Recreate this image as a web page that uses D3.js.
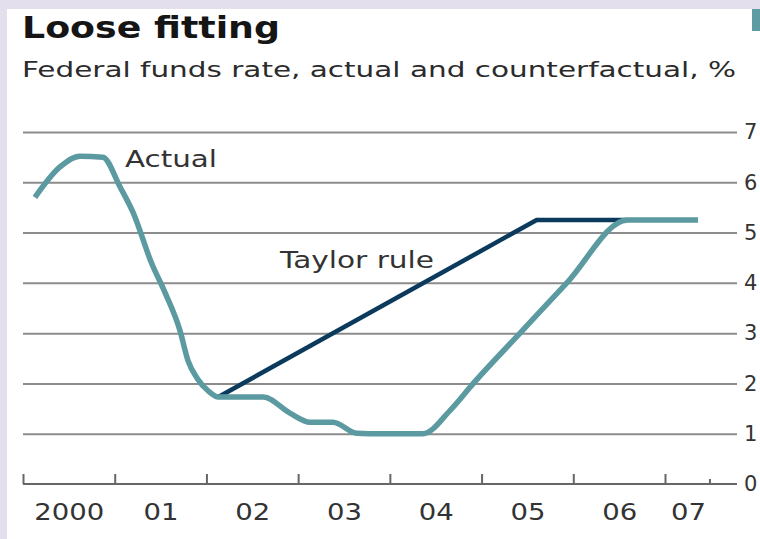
<!DOCTYPE html>
<meta charset="utf-8">
<style>
body { margin: 0; background: #e4dfed; }
svg { display: block; }
text { font-family: "DejaVu Sans", sans-serif; }
.grid line { stroke: #8c8c8c; stroke-width: 2px; }
.grid text { font-size: 21px; fill: #333; }
.xaxis line, .xaxis path { stroke: #666; stroke-width: 2px; }
.xlab text { font-size: 23px; fill: #333; }
</style>
<body>
<script src="https://cdn.jsdelivr.net/npm/d3@7"></script>
<script>

// Actual federal funds rate (decimal year, %)
var actualYears = [2000.13, 2000.4, 2000.62, 2000.87, 2001.06, 2001.2, 2001.4, 2001.55, 2001.71, 2001.8, 2001.9, 2002.02, 2002.13,
                   2002.62, 2002.91, 2003.13, 2003.38, 2003.64, 2003.9, 2004.36, 2004.66, 2004.91, 2005.45, 2005.93, 2006.59, 2007.36];
var actualRates = [5.7, 6.3, 6.52, 6.5, 5.9, 5.4, 4.4, 3.8, 3.06, 2.45, 2.1, 1.85, 1.73,
                   1.73, 1.41, 1.23, 1.23, 1.01, 1.0, 1.0, 1.47, 2.0, 3.06, 4.0, 5.25, 5.25];

// Taylor-rule counterfactual
var taylorYears = [2002.13, 2005.6, 2006.59];
var taylorRates = [1.73, 5.25, 5.25];

var yTicks = [0, 1, 2, 3, 4, 5, 6, 7];
var yearTicks = [2000, 2001, 2002, 2003, 2004, 2005, 2006, 2007];
var yearLabels = ["2000", "01", "02", "03", "04", "05", "06", "07"];

var width = 760,
    height = 539;

var x = d3.scaleLinear().domain([2000, 2007.785]).range([23, 737]);
var y = d3.scaleLinear().domain([0, 7]).range([484, 132]);

var svg = d3.select("body").append("svg")
    .attr("width", width)
    .attr("height", height);

svg.append("rect")
    .attr("x", 7).attr("y", 9)
    .attr("width", width - 7).attr("height", height - 9)
    .attr("fill", "#fff");

svg.append("rect")
    .attr("x", 752).attr("y", 9)
    .attr("width", 8).attr("height", 22)
    .attr("fill", "#5e9ca3");

svg.append("text")
    .attr("x", 22).attr("y", 38)
    .attr("textLength", 258).attr("lengthAdjust", "spacingAndGlyphs")
    .style("font-size", "31px").style("font-weight", "bold").style("fill", "#151515")
    .text("Loose fitting");

svg.append("text")
    .attr("x", 22).attr("y", 77)
    .attr("textLength", 714).attr("lengthAdjust", "spacingAndGlyphs")
    .style("font-size", "21px").style("fill", "#2b2b2b")
    .text("Federal funds rate, actual and counterfactual, %");

// horizontal gridlines with labels on the right
var grid = svg.append("g")
    .attr("class", "grid")
    .attr("transform", "translate(23,0)")
    .call(d3.axisRight(y).tickValues(yTicks).tickSize(714).tickPadding(7)
      .tickFormat(d3.format("d")));
grid.select(".domain").remove();
grid.selectAll(".tick").filter(function(d) { return d === 0; }).select("line").remove();

// baseline with upward year ticks
var xaxis = svg.append("g")
    .attr("class", "xaxis")
    .attr("transform", "translate(0,484)")
    .call(d3.axisTop(x).tickValues(yearTicks).tickSize(10).tickFormat(""));
xaxis.select(".domain").attr("d", "M23,0H737");
xaxis.append("line")
    .attr("x1", x(2007.49)).attr("x2", x(2007.49))
    .attr("y1", 0).attr("y2", -5);

// year labels between the ticks
var xlab = svg.append("g")
    .attr("class", "xlab")
    .attr("transform", "translate(0,501)")
    .call(d3.axisBottom(x)
      .tickValues([2000.5, 2001.5, 2002.5, 2003.5, 2004.5, 2005.5, 2006.5, 2007.25])
      .tickSize(0)
      .tickFormat(function(d, i) { return yearLabels[i]; }));
xlab.select(".domain").remove();
xlab.selectAll("text")
    .attr("textLength", function(d, i) { return yearLabels[i].length * 17.5; })
    .attr("lengthAdjust", "spacingAndGlyphs");

var line = d3.line()
    .curve(d3.curveMonotoneX)
    .x(function(d) { return x(d[0]); })
    .y(function(d) { return y(d[1]); });

svg.append("path")
    .datum(d3.zip(taylorYears, taylorRates))
    .attr("fill", "none")
    .attr("stroke", "#0b3a5c")
    .attr("stroke-width", 4.5)
    .attr("d", d3.line().x(function(d) { return x(d[0]); }).y(function(d) { return y(d[1]); }));

svg.append("path")
    .datum(d3.zip(actualYears, actualRates))
    .attr("fill", "none")
    .attr("stroke", "#5b9aa0")
    .attr("stroke-width", 5.5)
    .attr("stroke-linejoin", "round")
    .attr("d", line);

svg.append("text")
    .attr("x", 125).attr("y", 167)
    .attr("textLength", 92).attr("lengthAdjust", "spacingAndGlyphs")
    .style("font-size", "23px").style("fill", "#333")
    .text("Actual");

svg.append("text")
    .attr("x", 280).attr("y", 268)
    .attr("textLength", 154).attr("lengthAdjust", "spacingAndGlyphs")
    .style("font-size", "23px").style("fill", "#333")
    .text("Taylor rule");

</script>
